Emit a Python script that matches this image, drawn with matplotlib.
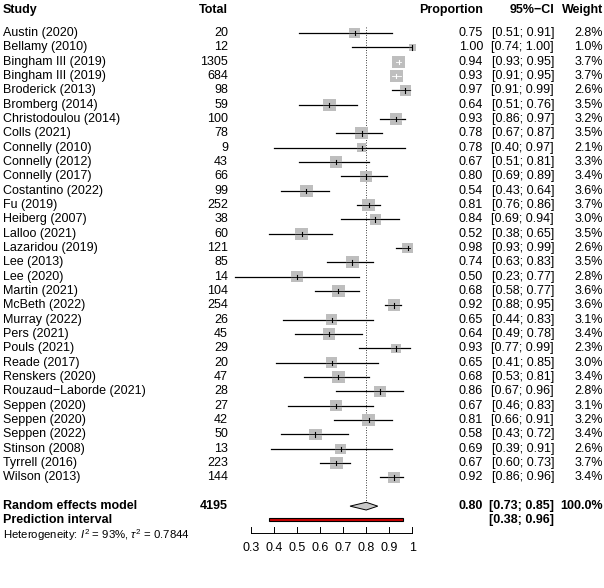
import matplotlib
matplotlib.use("Agg")
import matplotlib.pyplot as plt
from matplotlib.patches import Rectangle, Polygon
import numpy as np

plt.rcParams['font.family'] = ['Liberation Sans', 'DejaVu Sans']
plt.rcParams['mathtext.fontset'] = 'custom'
plt.rcParams['mathtext.rm'] = 'Liberation Sans'
plt.rcParams['mathtext.it'] = 'Liberation Sans:italic'

## DATA
studies = ["Austin (2020)", "Bellamy (2010)", "Bingham III (2019)", "Bingham III (2019)",
           "Broderick (2013)", "Bromberg (2014)", "Christodoulou (2014)", "Colls (2021)",
           "Connelly (2010)", "Connelly (2012)", "Connelly (2017)", "Costantino (2022)",
           "Fu (2019)", "Heiberg (2007)", "Lalloo (2021)", "Lazaridou (2019)",
           "Lee (2013)", "Lee (2020)", "Martin (2021)", "McBeth (2022)",
           "Murray (2022)", "Pers (2021)", "Pouls (2021)", "Reade (2017)",
           "Renskers (2020)", "Rouzaud\u2212Laborde (2021)", "Seppen (2020)", "Seppen (2020)",
           "Seppen (2022)", "Stinson (2008)", "Tyrrell (2016)", "Wilson (2013)"]
totals = [20, 12, 1305, 684, 98, 59, 100, 78, 9, 43, 66, 99, 252, 38, 60, 121,
          85, 14, 104, 254, 26, 45, 29, 20, 47, 28, 27, 42, 50, 13, 223, 144]
props = [0.75, 1.00, 0.94, 0.93, 0.97, 0.64, 0.93, 0.78, 0.78, 0.67, 0.80, 0.54,
         0.81, 0.84, 0.52, 0.98, 0.74, 0.50, 0.68, 0.92, 0.65, 0.64, 0.93, 0.65,
         0.68, 0.86, 0.67, 0.81, 0.58, 0.69, 0.67, 0.92]
ci_low = [0.51, 0.74, 0.93, 0.91, 0.91, 0.51, 0.86, 0.67, 0.40, 0.51, 0.69, 0.43,
          0.76, 0.69, 0.38, 0.93, 0.63, 0.23, 0.58, 0.88, 0.44, 0.49, 0.77, 0.41,
          0.53, 0.67, 0.46, 0.66, 0.43, 0.39, 0.60, 0.86]
ci_high = [0.91, 1.00, 0.95, 0.95, 0.99, 0.76, 0.97, 0.87, 0.97, 0.81, 0.89, 0.64,
           0.86, 0.94, 0.65, 0.99, 0.83, 0.77, 0.77, 0.95, 0.83, 0.78, 0.99, 0.85,
           0.81, 0.96, 0.83, 0.91, 0.72, 0.91, 0.73, 0.96]
weights = [2.8, 1.0, 3.7, 3.7, 2.6, 3.5, 3.2, 3.5, 2.1, 3.3, 3.4, 3.6, 3.7, 3.0, 3.5, 2.6,
           3.5, 2.8, 3.6, 3.6, 3.1, 3.4, 2.3, 3.0, 3.4, 2.8, 3.1, 3.2, 3.4, 2.6, 3.7, 3.4]

re_total = 4195
re_est, re_low, re_high = 0.80, 0.73, 0.85
pi_low, pi_high = 0.38, 0.96
i2 = 93
tau2 = 0.7844
ticks = [0.3, 0.4, 0.5, 0.6, 0.7, 0.8, 0.9, 1.0]
tick_labels = ["0.3", "0.4", "0.5", "0.6", "0.7", "0.8", "0.9", "1"]

## LAYOUT (pixel based)
W, H = 604, 588
x0_px, unit_px = 250.7, 231.0     # pixel of 0.3, pixels per 1.0
row0_px, row_px = 35.0, 15.19     # pixel of first row, pixels per row

fig = plt.figure(figsize=(W / 100, H / 100), dpi=100)
ax = fig.add_axes([0, 0, 1, 1])
ax.set_xlim(0.3 - x0_px / unit_px, 0.3 + (W - x0_px) / unit_px)
ax.set_ylim(row0_px / row_px + (H - row0_px) / row_px, -row0_px / row_px)
ax.axis('off')

tr_txt = ax.get_yaxis_transform()  # x in axes fraction, y in rows
def px(xp):
    return xp / W

fs = 9.0
n = len(studies)
rows = np.arange(n)
re_row, pi_row, het_row = n + 1, n + 2, n + 3
head_row = -1.58

# headers
ax.text(px(3), head_row, "Study", transform=tr_txt, ha='left', va='center', fontsize=fs, fontweight='bold')
ax.text(px(228), head_row, "Total", transform=tr_txt, ha='right', va='center', fontsize=fs, fontweight='bold')
ax.text(px(483), head_row, "Proportion", transform=tr_txt, ha='right', va='center', fontsize=fs, fontweight='bold')
ax.text(px(554), head_row, "95%\u2212CI", transform=tr_txt, ha='right', va='center', fontsize=fs, fontweight='bold')
ax.text(px(603), head_row, "Weight", transform=tr_txt, ha='right', va='center', fontsize=fs, fontweight='bold')

# study rows
box_max = 13.0
for i in rows:
    ax.text(px(3), i, studies[i], transform=tr_txt, ha='left', va='center', fontsize=fs)
    ax.text(px(228), i, str(totals[i]), transform=tr_txt, ha='right', va='center', fontsize=fs)
    ax.text(px(483), i, "%.2f" % props[i], transform=tr_txt, ha='right', va='center', fontsize=fs)
    ax.text(px(554), i, "[%.2f; %.2f]" % (ci_low[i], ci_high[i]), transform=tr_txt, ha='right', va='center', fontsize=fs)
    ax.text(px(603), i, "%.1f%%" % weights[i], transform=tr_txt, ha='right', va='center', fontsize=fs)

    side = box_max * np.sqrt(weights[i] / max(weights))
    bw = side / unit_px
    bh = side / row_px
    inside = (props[i] - ci_low[i]) < bw / 2 and (ci_high[i] - props[i]) < bw / 2
    ax.plot([ci_low[i], ci_high[i]], [i, i], color='black', lw=0.9, zorder=2)
    ax.add_patch(Rectangle((props[i] - bw / 2, i - bh / 2), bw, bh, facecolor='#bebebe',
                           edgecolor='none', zorder=3))
    lc = 'white' if inside else 'black'
    lo = max(ci_low[i], props[i] - bw / 2)
    hi = min(ci_high[i], props[i] + bw / 2)
    ax.plot([lo, hi], [i, i], color=lc, lw=0.6, zorder=4)
    ax.plot([props[i], props[i]], [i - 0.15, i + 0.15], color=lc, lw=0.8, zorder=4)

# random effects row
ax.text(px(3), re_row, "Random effects model", transform=tr_txt, ha='left', va='center', fontsize=fs, fontweight='bold')
ax.text(px(228), re_row, str(re_total), transform=tr_txt, ha='right', va='center', fontsize=fs, fontweight='bold')
ax.text(px(483), re_row, "%.2f" % re_est, transform=tr_txt, ha='right', va='center', fontsize=fs, fontweight='bold')
ax.text(px(554), re_row, "[%.2f; %.2f]" % (re_low, re_high), transform=tr_txt, ha='right', va='center', fontsize=fs, fontweight='bold')
ax.text(px(603), re_row, "100.0%", transform=tr_txt, ha='right', va='center', fontsize=fs, fontweight='bold')
dh = 0.27
ax.add_patch(Polygon([[re_low, re_row], [re_est, re_row - dh], [re_high, re_row], [re_est, re_row + dh]],
                     closed=True, facecolor='#c8c8c8', edgecolor='black', lw=0.7, zorder=3))

# dotted line at pooled estimate
ax.plot([re_est, re_est], [-0.42, re_row - dh], color='black', lw=0.6, ls=(0, (1, 2)), zorder=1)

# prediction interval
ax.text(px(3), pi_row, "Prediction interval", transform=tr_txt, ha='left', va='center', fontsize=fs, fontweight='bold')
ax.text(px(554), pi_row, "[%.2f; %.2f]" % (pi_low, pi_high), transform=tr_txt, ha='right', va='center', fontsize=fs, fontweight='bold')
ph = 0.2
ax.add_patch(Rectangle((pi_low, pi_row - ph / 2 - 0.06), pi_high - pi_low, ph, facecolor='#cc0000',
                       edgecolor='black', lw=0.8, zorder=3))

# heterogeneity
ax.text(px(3), het_row, r"Heterogeneity: $I^2$ = %d%%, $\tau^2$ = %.4f" % (i2, tau2),
        transform=tr_txt, ha='left', va='center', fontsize=8.2)

# x axis drawn by hand
ax_y = (565 - row0_px) / row_px
tk_top = (558 - row0_px) / row_px
lab_y = (581 - row0_px) / row_px
ax.plot([ticks[0], ticks[-1]], [ax_y, ax_y], color='black', lw=0.7)
for t, lab in zip(ticks, tick_labels):
    ax.plot([t, t], [tk_top, ax_y], color='black', lw=0.7)
    ax.text(t, lab_y, lab, ha='center', va='center', fontsize=fs)

fig.savefig("out.png", dpi=100)
